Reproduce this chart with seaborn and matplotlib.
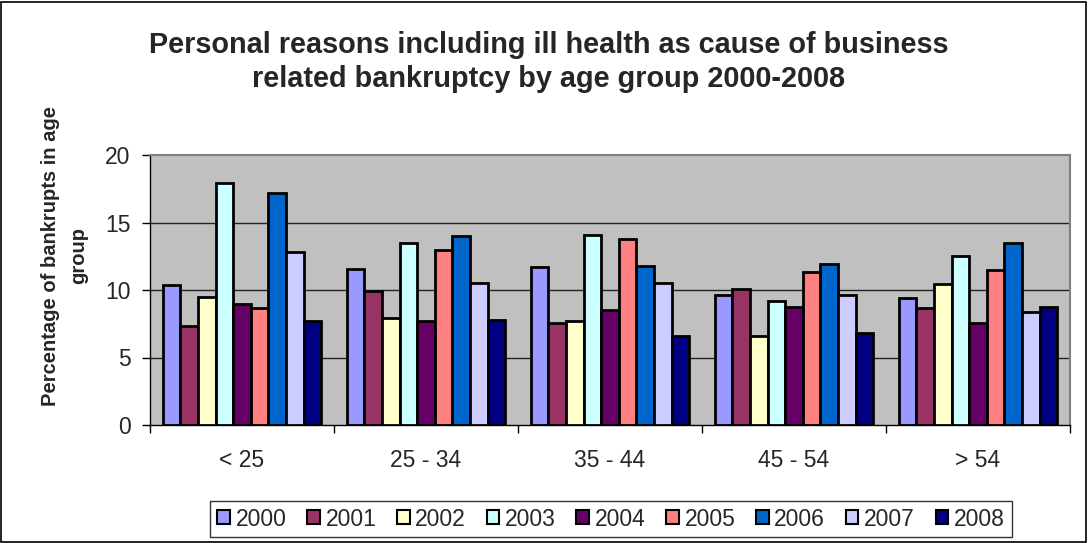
import numpy as np
import pandas as pd
import matplotlib
matplotlib.use("Agg")
import matplotlib.pyplot as plt
import seaborn as sns
from matplotlib.patches import Rectangle

# --- Data ---
age_groups = ["< 25", "25 - 34", "35 - 44", "45 - 54", "> 54"]
years = ["2000", "2001", "2002", "2003", "2004", "2005", "2006", "2007", "2008"]

v2000 = [10.4, 11.55, 11.7, 9.65, 9.4]
v2001 = [7.3, 9.9, 7.55, 10.1, 8.7]
v2002 = [9.5, 7.95, 7.7, 6.6, 10.45]
v2003 = [17.9, 13.5, 14.05, 9.2, 12.55]
v2004 = [8.95, 7.7, 8.5, 8.75, 7.55]
v2005 = [8.65, 12.95, 13.8, 11.35, 11.5]
v2006 = [17.2, 14.0, 11.75, 11.9, 13.5]
v2007 = [12.85, 10.5, 10.55, 9.65, 8.35]
v2008 = [7.7, 7.75, 6.6, 6.8, 8.75]

colors = ["#9999FF", "#993366", "#FFFFCC", "#CCFFFF", "#660066",
          "#FF8080", "#0066CC", "#CCCCFF", "#000080"]

series = [v2000, v2001, v2002, v2003, v2004, v2005, v2006, v2007, v2008]
rows = []
for yr, vals in zip(years, series):
    for grp, v in zip(age_groups, vals):
        rows.append({"age": grp, "year": yr, "value": v})
df = pd.DataFrame(rows)

# --- Plotting ---
sns.set_style("white")
plt.rcParams["font.family"] = ["Liberation Sans", "DejaVu Sans"]

fig = plt.figure(figsize=(10.88, 5.43), dpi=100)
ax = fig.add_axes([150 / 1088, 1 - 425 / 543, 920 / 1088, 270 / 543])
ax.set_facecolor("#C0C0C0")

sns.barplot(data=df, x="age", y="value", hue="year", order=age_groups,
            hue_order=years, palette=colors, saturation=1, width=0.86,
            edgecolor="black", linewidth=2.0, ax=ax, zorder=3)

ax.set_ylim(0, 20)
ax.set_xlim(-0.5, len(age_groups) - 0.5)
ax.set_yticks([0, 5, 10, 15, 20])
for yv in [5, 10, 15]:
    ax.axhline(yv, color="#222222", linewidth=1.0, zorder=1)

ax.set_xlabel("")
ax.set_ylabel("")

# spines: gray frame, black left/bottom
for side in ["top", "right"]:
    ax.spines[side].set_color("#808080")
    ax.spines[side].set_linewidth(1.5)
for side in ["left", "bottom"]:
    ax.spines[side].set_color("black")
    ax.spines[side].set_linewidth(1.0)

ax.tick_params(axis="y", which="major", left=True, length=6, width=1,
               color="black", labelsize=16.5, pad=8)
ax.tick_params(axis="x", which="major", bottom=False, labelsize=16.5, pad=14)
ax.set_xticks(np.arange(-0.5, len(age_groups) + 0.5, 1), minor=True)
ax.tick_params(axis="x", which="minor", bottom=True, length=6, width=1,
               color="black")

# legend
sns.move_legend(ax, "center", bbox_to_anchor=(611 / 1088, 1 - 519 / 543),
                bbox_transform=fig.transFigure, ncol=9, title=None,
                frameon=True, fancybox=False, fontsize=16.5,
                handlelength=0.55, handleheight=0.55, handletextpad=0.25,
                columnspacing=0.9, borderpad=0.3)
leg = ax.get_legend()
leg.get_frame().set_edgecolor("black")
leg.get_frame().set_linewidth(1.0)
for h in leg.legend_handles:
    h.set_edgecolor("black")
    h.set_linewidth(1.5)

# title and y label
fig.text(549 / 1088, 1 - 62 / 543,
         "Personal reasons including ill health as cause of business\n"
         "related bankruptcy by age group 2000-2008",
         ha="center", va="center", fontsize=20.8, fontweight="bold",
         linespacing=1.25)
fig.text(65 / 1088, 1 - 256 / 543, "Percentage of bankrupts in age\ngroup",
         ha="center", va="center", rotation=90, fontsize=14.5,
         fontweight="bold", linespacing=1.6, multialignment="center")

# outer border
fig.patches.append(Rectangle((0.001, 0.002), 0.997, 0.995, transform=fig.transFigure,
                             fill=False, edgecolor="black", linewidth=1.2))

fig.savefig("out.png", dpi=100)
